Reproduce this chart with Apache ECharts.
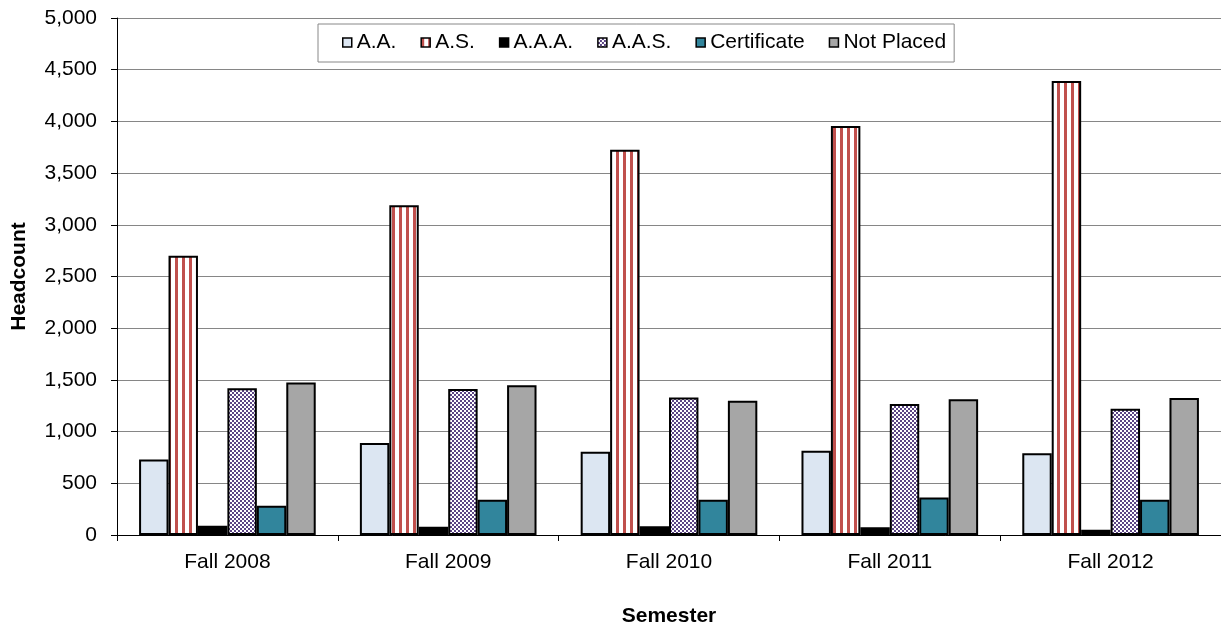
<!DOCTYPE html>
<html>
<head>
<meta charset="utf-8">
<script src="https://cdn.jsdelivr.net/npm/echarts@6/dist/echarts.min.js"></script>
<style>
html,body{margin:0;padding:0;background:#fff;}
#chart{width:1221px;height:632px;}
</style>
</head>
<body>
<div id="chart"></div>
<script>
var categories = ['Fall 2008', 'Fall 2009', 'Fall 2010', 'Fall 2011', 'Fall 2012'];
var seriesNames = ['A.A.', 'A.S.', 'A.A.A.', 'A.A.S.', 'Certificate', 'Not Placed'];
var aaValues = [730, 890, 805, 815, 790];
var asValues = [2700, 3190, 3725, 3955, 4390];
var aaaValues = [90, 80, 85, 75, 50];
var aasValues = [1420, 1413, 1330, 1267, 1220];
var certificateValues = [283, 340, 340, 362, 340];
var notPlacedValues = [1476, 1448, 1298, 1314, 1324];
var yTicks = [0, 500, 1000, 1500, 2000, 2500, 3000, 3500, 4000, 4500, 5000];

function stripePattern() {
  var c = document.createElement('canvas');
  c.width = 7; c.height = 7;
  var ctx = c.getContext('2d');
  ctx.fillStyle = '#ffffff'; ctx.fillRect(0, 0, 7, 7);
  ctx.fillStyle = '#C0504D'; ctx.fillRect(0, 0, 3, 7);
  return {image: c, repeat: 'repeat'};
}
function checkerPattern() {
  var c = document.createElement('canvas');
  c.width = 4; c.height = 4;
  var ctx = c.getContext('2d');
  ctx.fillStyle = '#ffffff'; ctx.fillRect(0, 0, 4, 4);
  ctx.fillStyle = '#5B4584';
  ctx.fillRect(0, 0, 2, 2); ctx.fillRect(2, 2, 2, 2);
  return {image: c, repeat: 'repeat'};
}

var fills = ['#DCE6F2', stripePattern(), '#000000', checkerPattern(), '#31859C', '#A6A6A6'];
var dataSets = [aaValues, asValues, aaaValues, aasValues, certificateValues, notPlacedValues];
var FONT = '"Liberation Sans", Arial, sans-serif';
var FS = 21;

var series = seriesNames.map(function (name, i) {
  return {
    name: name,
    type: 'bar',
    data: dataSets[i],
    barGap: '0%',
    barCategoryGap: '20%',
    itemStyle: {color: fills[i], borderColor: '#000', borderWidth: 2},
    emphasis: {disabled: true},
    animation: false
  };
});

var chart = echarts.init(document.getElementById('chart'), null, {renderer: 'canvas'});
chart.setOption({
  animation: false,
  backgroundColor: '#ffffff',
  textStyle: {fontFamily: FONT},
  grid: {left: 117, top: 18, width: 1107, height: 525, containLabel: false},
  legend: {
    left: 318, top: 24,
    padding: [8, 8, 9, 24],
    itemGap: 24,
    itemWidth: 9, itemHeight: 9,
    icon: 'rect',
    borderColor: '#888888', borderWidth: 1,
    itemStyle: {borderColor: '#000', borderWidth: 1.5},
    textStyle: {fontFamily: FONT, fontSize: FS, color: '#000'},
    data: seriesNames
  },
  xAxis: {
    type: 'category',
    data: categories,
    name: 'Semester',
    nameLocation: 'middle',
    nameGap: 71,
    nameTextStyle: {fontFamily: FONT, fontSize: FS, fontWeight: 'bold', color: '#000'},
    axisLine: {lineStyle: {color: '#000', width: 1}},
    axisTick: {show: true, length: 6, alignWithLabel: false, lineStyle: {color: '#000'}},
    axisLabel: {fontFamily: FONT, fontSize: FS, color: '#000', margin: 17},
    splitLine: {show: false}
  },
  yAxis: {
    type: 'value',
    min: yTicks[0], max: yTicks[yTicks.length - 1], interval: yTicks[1] - yTicks[0],
    name: 'Headcount',
    nameLocation: 'middle',
    nameGap: 87,
    nameRotate: 90,
    nameTextStyle: {fontFamily: FONT, fontSize: FS, fontWeight: 'bold', color: '#000'},
    axisLine: {show: true, lineStyle: {color: '#000', width: 1}},
    axisTick: {show: true, length: 6, inside: false, lineStyle: {color: '#000'}},
    axisLabel: {
      fontFamily: FONT, fontSize: FS, color: '#000', margin: 20,
      formatter: function (v) { return v.toLocaleString('en-US'); }
    },
    splitLine: {show: true, lineStyle: {color: '#868686', width: 1}}
  },
  series: series
});
</script>
</body>
</html>
